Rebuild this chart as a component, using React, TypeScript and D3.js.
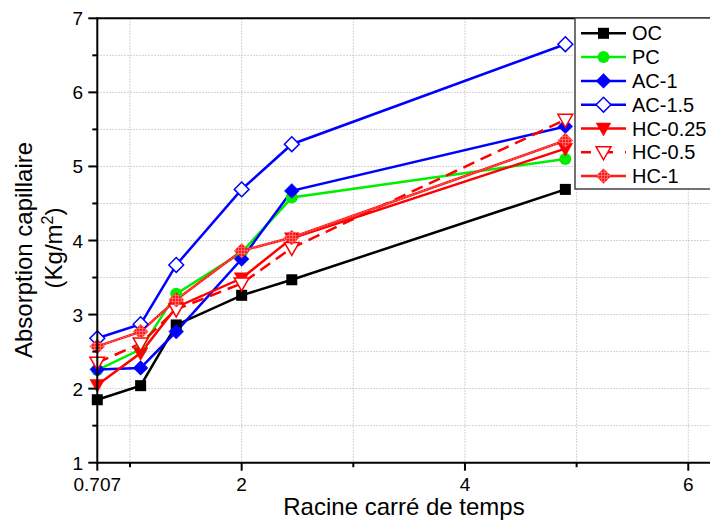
import React from "react";
import * as d3 from "d3";

const timeRoots = [0.707, 1.095, 1.414, 2, 2.449, 4.899];
const seriesNames = ["OC", "PC", "AC-1", "AC-1.5", "HC-0.25", "HC-0.5", "HC-1"];
const OC = [1.85, 2.04, 2.86, 3.26, 3.47, 4.69];
const PC = [2.25, 2.53, 3.28, 3.84, 4.58, 5.1];
const AC1 = [2.26, 2.28, 2.77, 3.75, 4.67, 5.54];
const AC15 = [2.68, 2.87, 3.67, 4.69, 5.3, 6.65];
const HC025 = [2.05, 2.48, 3.1, 3.49, 4.03, 5.24];
const HC05 = [2.35, 2.61, 3.07, 3.42, 3.9, 5.63];
const HC1 = [2.57, 2.77, 3.2, 3.86, 4.04, 5.35];
const xMajorTicks = [0.707, 2, 4, 6];
const xMinorTicks = [1, 3, 5];
const yMajorTicks = [1, 2, 3, 4, 5, 6, 7];
const yMinorTicks = [1.5, 2.5, 3.5, 4.5, 5.5, 6.5];

type Style = { color: string; marker: string; filled: boolean; dashed: boolean; hatch?: boolean };
const styles: Style[] = [
  { color: "#000000", marker: "square", filled: true, dashed: false },
  { color: "#00ee00", marker: "circle", filled: true, dashed: false },
  { color: "#0000ff", marker: "diamond", filled: true, dashed: false },
  { color: "#0000ff", marker: "diamond", filled: false, dashed: false },
  { color: "#ff0000", marker: "triangle", filled: true, dashed: false },
  { color: "#ff0000", marker: "triangle", filled: false, dashed: true },
  { color: "#ff1a1a", marker: "diamond", filled: true, dashed: false, hatch: true },
];
const allValues = [OC, PC, AC1, AC15, HC025, HC05, HC1];

const FONT = "'Liberation Sans', Arial, sans-serif";

function Marker({ x, y, s }: { x: number; y: number; s: Style }) {
  const fill = s.hatch ? "url(#hatch)" : s.filled ? s.color : "#ffffff";
  const sw = s.filled ? 0 : 1.5;
  if (s.marker === "square") {
    return <rect x={x - 5.5} y={y - 5.5} width={11} height={11} fill={fill} />;
  }
  if (s.marker === "circle") {
    return <circle cx={x} cy={y} r={6} fill={fill} />;
  }
  if (s.marker === "diamond") {
    const h = 7.4;
    return (
      <path
        d={`M${x},${y - h}L${x + h},${y}L${x},${y + h}L${x - h},${y}Z`}
        fill={fill}
        stroke={s.color}
        strokeWidth={s.filled ? 0.5 : sw}
      />
    );
  }
  // triangle down
  const w = 7.4;
  return (
    <path
      d={`M${x - w},${y - 5.5}L${x + w},${y - 5.5}L${x},${y + 7.5}Z`}
      fill={fill}
      stroke={s.color}
      strokeWidth={s.filled ? 0.5 : sw}
    />
  );
}

export default function App() {
  const left = 97.3;
  const top = 18.3;
  const bottom = 462.7;
  const x = d3.scaleLinear().domain([0.707, 6.2]).range([left, left + (6.2 - 0.707) * 111.65]);
  const y = d3.scaleLinear().domain([1, 7]).range([bottom, top]);
  const right = 712;
  const line = d3
    .line<number>()
    .x((_, i) => x(timeRoots[i]))
    .y((d) => y(d));

  const legendX = 575;
  const legendTop = 18;
  const rowH = 23.8;

  return (
    <svg
      width={710}
      height={523}
      style={{ position: "absolute", left: 0, top: 0, background: "#fff" }}
      fontFamily={FONT}
    >
      <defs>
        <pattern id="hatch" width="3" height="3" patternUnits="userSpaceOnUse">
          <rect width="3" height="3" fill="#ff1a1a" />
          <path d="M0,1.5H3M1.5,0V3" stroke="#ff8080" strokeWidth="0.7" />
        </pattern>
      </defs>
      <rect width={710} height={523} fill="#fff" />
      {/* grid */}
      <g stroke="#c4c4c4" strokeWidth={1} strokeDasharray="1.5,1.5">
        {[...xMinorTicks, ...xMajorTicks.slice(1)].map((t) => (
          <line key={"gx" + t} x1={x(t)} x2={x(t)} y1={top} y2={bottom} />
        ))}
        {[...yMinorTicks, ...yMajorTicks.slice(1, -1)].map((t) => (
          <line key={"gy" + t} x1={left} x2={right} y1={y(t)} y2={y(t)} />
        ))}
      </g>
      {/* series lines */}
      {allValues.map((vals, i) => {
        const s = styles[i];
        return (
          <g key={"l" + i}>
            <path
              d={line(vals) || ""}
              fill="none"
              stroke={s.color}
              strokeWidth={2.5}
              strokeDasharray={s.dashed ? "12,7" : undefined}
            />
            {s.hatch && (
              <path d={line(vals) || ""} fill="none" stroke="#ff9090" strokeWidth={0.8} strokeDasharray="1.5,1.5" />
            )}
          </g>
        );
      })}
      {allValues.map((vals, i) => (
        <g key={"m" + i}>
          {vals.map((v, j) => (
            <Marker key={j} x={x(timeRoots[j])} y={y(v)} s={styles[i]} />
          ))}
        </g>
      ))}
      {/* axes */}
      <g stroke="#000" strokeWidth={2}>
        <line x1={left} x2={right} y1={bottom} y2={bottom} />
        <line x1={left} x2={right} y1={top} y2={top} />
        <line x1={left} x2={left} y1={top - 1} y2={bottom + 1} />
        {xMajorTicks.map((t) => (
          <line key={"xt" + t} x1={x(t)} x2={x(t)} y1={bottom} y2={bottom + 8} />
        ))}
        {xMinorTicks.map((t) => (
          <line key={"xm" + t} x1={x(t)} x2={x(t)} y1={bottom} y2={bottom + 4.5} />
        ))}
        {yMajorTicks.map((t) => (
          <line key={"yt" + t} x1={left - 9} x2={left} y1={y(t)} y2={y(t)} />
        ))}
        {yMinorTicks.map((t) => (
          <line key={"ym" + t} x1={left - 5} x2={left} y1={y(t)} y2={y(t)} />
        ))}
      </g>
      <g fontSize={19} fill="#000">
        {xMajorTicks.map((t) => (
          <text key={"xl" + t} x={x(t)} y={491} textAnchor="middle">
            {t === 0.707 ? "0.707" : String(t)}
          </text>
        ))}
        {yMajorTicks.map((t) => (
          <text key={"yl" + t} x={83} y={y(t) + 7} textAnchor="end">
            {String(t)}
          </text>
        ))}
      </g>
      <text x={404} y={515} textAnchor="middle" fontSize={24}>
        Racine carré de temps
      </text>
      <text transform="translate(32,250) rotate(-90)" textAnchor="middle" fontSize={24}>
        Absorption capillaire
      </text>
      <text transform="translate(62,248) rotate(-90)" textAnchor="middle" fontSize={24}>
        (Kg/m<tspan dy={-9} fontSize={16}>2</tspan>
        <tspan dy={9}>)</tspan>
      </text>
      {/* legend */}
      <rect x={legendX} y={legendTop} width={150} height={171} fill="#fff" stroke="#444" strokeWidth={1.5} />
      {seriesNames.map((name, i) => {
        const s = styles[i];
        const cy = 33.3 + i * rowH;
        return (
          <g key={"lg" + i}>
            <line
              x1={581}
              x2={626}
              y1={cy}
              y2={cy}
              stroke={s.color}
              strokeWidth={2.5}
              strokeDasharray={s.dashed ? "10,12" : undefined}
            />
            <Marker x={603.5} y={cy} s={s} />
            <text x={632} y={cy + 7} fontSize={20}>
              {name}
            </text>
          </g>
        );
      })}
    </svg>
  );
}
